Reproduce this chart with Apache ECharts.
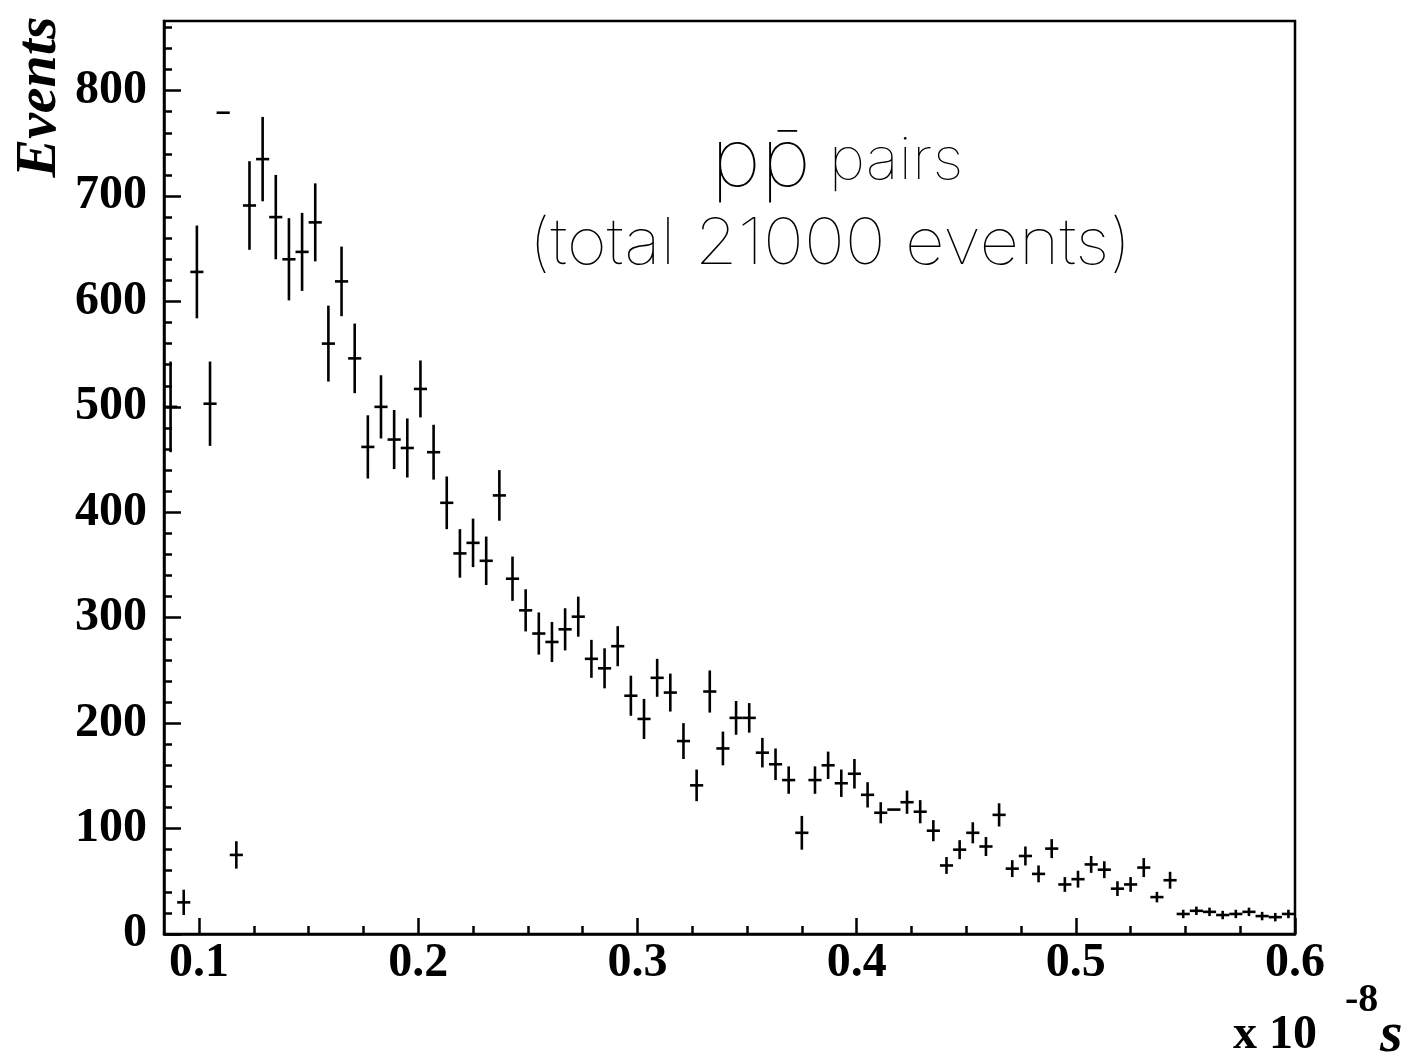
<!DOCTYPE html>
<html><head><meta charset="utf-8">
<script src="https://cdn.jsdelivr.net/npm/echarts@6/dist/echarts.min.js"></script>
<style>html,body{margin:0;padding:0;background:#fff}#c{width:1408px;height:1054px}</style>
</head><body><div id="c"></div>
<script>
// ---- data ----
const binLow = 0.084;
const binWidth = 0.006;
const xMax = 0.6;
const yMax = 866;
const xMajorTicks = [0.1, 0.2, 0.3, 0.4, 0.5, 0.6];
const xTickLabels = ['0.1', '0.2', '0.3', '0.4', '0.5', '0.6'];
const xMinorTicks = [0.125, 0.15, 0.175, 0.225, 0.25, 0.275, 0.325, 0.35, 0.375, 0.425, 0.45, 0.475, 0.525, 0.55, 0.575];
const yMajorTicks = [0, 100, 200, 300, 400, 500, 600, 700, 800];
const yTickLabels = ['0', '100', '200', '300', '400', '500', '600', '700', '800'];
const yMinorTicks = [20, 40, 60, 80, 120, 140, 160, 180, 220, 240, 260, 280, 320, 340, 360, 380, 420, 440, 460, 480, 520, 540, 560, 580, 620, 640, 660, 680, 720, 740, 760, 780, 820, 840, 860];
const counts = [500, 30, 628, 503, 779, 75, 691, 735, 680, 640, 647, 675, 560, 619, 546, 462, 500, 469, 461, 517,
  457, 409, 361, 371, 354, 416, 337, 307, 285, 277, 289, 301, 261, 252, 273, 226, 204, 243, 229, 183,
  141, 230, 176, 205, 205, 172, 161, 146, 96, 146, 160, 143, 152, 132, 115, 118, 125, 116, 98, 65,
  80, 96, 83, 113, 62, 74, 57, 81, 47, 52, 66, 61, 43, 47, 63, 35, 51, 19, 22, 21,
  18, 19, 21, 17, 16, 19];
const errors = [43, 12, 44, 40, 0, 13, 42, 40, 40, 39, 37, 37, 36, 33, 33, 30, 30, 28, 28, 27,
  26, 25, 23, 23, 23, 24, 21, 20, 20, 19, 20, 19, 18, 19, 19, 19, 19, 18, 18, 17,
  15, 20, 16, 16, 14, 14, 15, 13, 16, 13, 13, 13, 14, 12, 10, 0, 11, 11, 10, 8,
  9, 10, 9, 11, 8, 9, 8, 9, 7, 8, 8, 8, 7, 7, 9, 5, 8, 4, 4, 4,
  4, 4, 4, 4, 4, 4];
const titleLine1 = ['pp\u0304', ' pairs'];
const titleLine2 = '(total 21000 events)';
const yTitle = 'Events';
const xTitle = ['x 10', '-8', 's'];

// ---- build ----
const points = counts.map((v, i) => [binLow + binWidth * (i + 0.5), v, errors[i]]);
const chart = echarts.init(document.getElementById('c'), null, {renderer: 'canvas'});
const labelFont = {fontFamily: '"Liberation Serif", "Times New Roman", serif', fontWeight: 'bold', fontSize: 48, color: '#000'};
const xAxisBase = {type: 'value', min: binLow, max: xMax, position: 'bottom', splitLine: {show: false}};
const yAxisBase = {type: 'value', min: 0, max: yMax, position: 'left', splitLine: {show: false}};
const thinFont = 'Inter, Lato, "Open Sans", sans-serif';

chart.setOption({
  animation: false,
  backgroundColor: '#fff',
  grid: {left: 164, right: 113, top: 21, bottom: 120, show: true, borderColor: '#000', borderWidth: 2.5, containLabel: false},
  xAxis: [
    Object.assign({}, xAxisBase, {
      axisLine: {show: true, lineStyle: {color: '#000', width: 2.5}},
      axisTick: {show: true, inside: true, length: 16, lineStyle: {color: '#000', width: 2.5}, customValues: xMajorTicks},
      axisLabel: Object.assign({show: true, margin: 6, lineHeight: 48, customValues: xMajorTicks,
        formatter: v => { const i = xMajorTicks.findIndex(t => Math.abs(t - v) < 1e-9); return i >= 0 ? xTickLabels[i] : ''; }}, labelFont)
    }),
    Object.assign({}, xAxisBase, {
      axisLine: {show: false},
      axisTick: {show: true, inside: true, length: 8, lineStyle: {color: '#000', width: 2.5}, customValues: xMinorTicks},
      axisLabel: {show: false}
    })
  ],
  yAxis: [
    Object.assign({}, yAxisBase, {
      axisLine: {show: true, lineStyle: {color: '#000', width: 2.5}},
      axisTick: {show: true, inside: true, length: 17, lineStyle: {color: '#000', width: 2.5}, customValues: yMajorTicks},
      axisLabel: Object.assign({show: true, margin: 17, customValues: yMajorTicks,
        formatter: v => { const i = yMajorTicks.indexOf(Math.round(v)); return i >= 0 ? yTickLabels[i] : ''; }}, labelFont)
    }),
    Object.assign({}, yAxisBase, {
      axisLine: {show: false},
      axisTick: {show: true, inside: true, length: 8, lineStyle: {color: '#000', width: 2.5}, customValues: yMinorTicks},
      axisLabel: {show: false}
    })
  ],
  series: [{
    type: 'custom',
    xAxisIndex: 0, yAxisIndex: 0,
    data: points,
    renderItem: function (params, api) {
      const x = api.value(0), y = api.value(1), e = api.value(2);
      const hw = binWidth / 2;
      const pL = api.coord([x - hw, y]), pR = api.coord([x + hw, y]);
      const children = [{type: 'line', shape: {x1: pL[0], y1: pL[1], x2: pR[0], y2: pR[1]}, style: {stroke: '#000', lineWidth: 2.6}}];
      if (e > 0) {
        const pT = api.coord([x, y + e]), pB = api.coord([x, y - e]);
        children.push({type: 'line', shape: {x1: pT[0], y1: pT[1], x2: pB[0], y2: pB[1]}, style: {stroke: '#000', lineWidth: 2.6}});
      }
      return {type: 'group', children: children};
    }
  }],
  graphic: [
    {type: 'text', x: 40, y: 97, rotation: Math.PI / 2,
      style: {text: yTitle, font: 'italic bold 58px "Liberation Serif", serif', fill: '#000', textAlign: 'center', textVerticalAlign: 'middle'}},
    {type: 'text', x: 837, y: 162, scaleX: 1.08,
      style: {text: '{a|' + titleLine1[0] + '}{b|' + titleLine1[1] + '}', textAlign: 'center', textVerticalAlign: 'middle',
        rich: {a: {font: '100 80px ' + thinFont, fill: '#000'},
               b: {font: '100 58px ' + thinFont, fill: '#000'}}}},
    {type: 'text', x: 830, y: 245, scaleX: 1.08,
      style: {text: titleLine2, font: '100 64px ' + thinFont, fill: '#000', textAlign: 'center', textVerticalAlign: 'middle'}},
    {type: 'text', x: 1233, y: 1036,
      style: {text: xTitle[0], font: 'bold 48px "Liberation Serif", serif', fill: '#000', textAlign: 'left', textVerticalAlign: 'middle'}},
    {type: 'text', x: 1345, y: 1001,
      style: {text: xTitle[1], font: 'bold 40px "Liberation Serif", serif', fill: '#000', textAlign: 'left', textVerticalAlign: 'middle'}},
    {type: 'text', x: 1380, y: 1036,
      style: {text: xTitle[2], font: 'italic bold 58px "Liberation Serif", serif', fill: '#000', textAlign: 'left', textVerticalAlign: 'middle'}}
  ]
});
</script>
</body></html>
